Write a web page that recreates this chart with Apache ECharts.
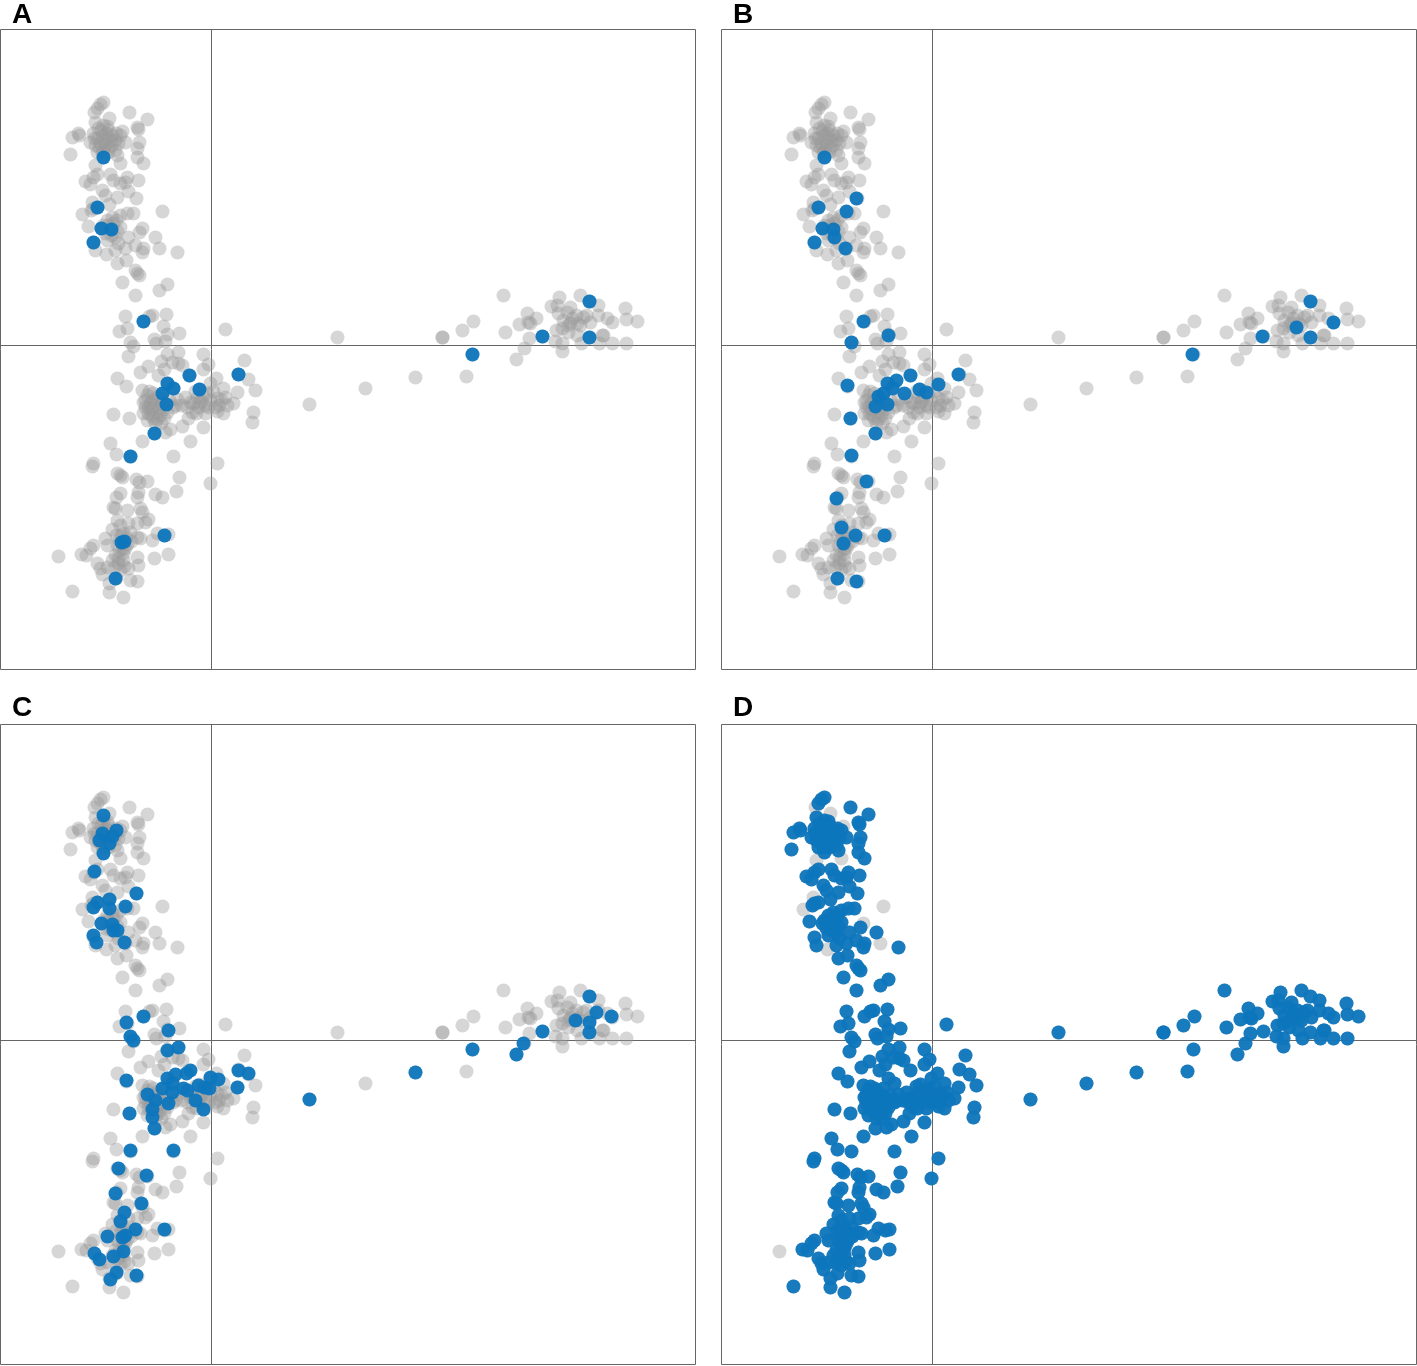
<!DOCTYPE html>
<html>
<head>
<meta charset="utf-8">
<title>Scatter panels</title>
<script src="https://cdn.jsdelivr.net/npm/echarts@6/dist/echarts.min.js"></script>
<style>
html, body { margin: 0; padding: 0; background: #fff; }
#main { width: 1417px; height: 1366px; }
</style>
</head>
<body>
<div id="main"></div>
<script>
var panelNames = [ 'A', 'B', 'C', 'D' ];

// every sample that is also highlighted in panel D
var allSamples = [
	[-108,243],[-111,241],[-114,237],[-82,233],[-64,226],[-116,223],[-74,218],[-73,216],[-133,212],[-139,208],[-132,210],[-141,191],
	[-72,203],[-74,197],[-74,188],[-68,182],[-118,212],[-113,217],[-108,220],[-103,215],[-109,210],[-114,207],[-104,207],[-99,210],
	[-96,205],[-93,202],[-99,200],[-106,200],[-111,202],[-116,200],[-96,195],[-103,193],[-109,193],[-114,193],[-91,210],[-86,203],
	[-121,203],[-94,190],[-108,188],[-110,215],[-105,212],[-100,205],[-112,198],[-107,205],[-102,198],[-117,207],[-95,212],[-108,195],
	[-104,219],[-114,171],[-118,168],[-126,164],[-121,161],[-101,171],[-98,165],[-91,162],[-86,163],[-84,168],[-73,165],[-83,154],
	[-109,155],[-106,150],[-94,148],[-75,147],[-102,141],[-120,135],[-114,138],[-118,137],[-99,128],[-91,130],[-84,132],[-78,132],
	[-104,125],[-98,122],[-108,120],[-123,119],[-110,117],[-100,116],[-91,118],[-72,113],[-56,108],[-34,93],[-118,103],[-116,95],
	[-104,105],[-96,108],[-93,102],[-83,108],[-86,97],[-76,100],[-68,97],[-69,93],[-96,95],[-94,82],[-85,85],[-76,75],
	[-74,72],[-72,70],[-89,63],[-44,61],[-52,55],[-76,50],[-103,120],[-95,125],[-100,110],[-106,112],[-94,114],
	[-86,29],[-68,24],[-62,29],[-59,30],[-45,31],[-92,14],[-84,17],[-48,19],[14,16],[-32,12],[-44,11],[-81,3],
	[-78,-1],[-57,6],[-55,2],[-46,4],[-83,-11],[-44,-9],[-33,-7],[-8,-9],[-50,-16],[-39,-17],[-33,-18],[-29,-20],
	[-3,-19],[-8,-24],[33,-15],[-63,-21],[-71,-27],[-47,-24],[-53,-30],[-22,-30],[-94,-33],[-85,-41],[37,-34],[44,-45],
	[27,-29],[5,-33],[-1,-38],[12,-43],[26,-47],[-69,-45],[-44,-38],[-38,-43],[-12,-44],[-49,-48],[-45,-59],[-64,-50],
	[-59,-55],[-68,-57],[-63,-62],[-56,-60],[-54,-67],[-63,-68],[-58,-73],[-51,-70],[-44,-67],[-38,-62],[-26,-52],[-21,-57],
	[-14,-52],[-8,-50],[-1,-55],[-6,-60],[-13,-62],[-19,-67],[-6,-68],[6,-53],[14,-52],[22,-58],[12,-68],[4,-62],
	[-23,-73],[-36,-60],[-68,-68],[-64,-75],[-98,-69],[-82,-73],[42,-67],[41,-77],[-8,-82],[-29,-81],[-41,-84],[-46,-87],
	[-57,-88],[-69,-96],[-21,-96],[-101,-98],[-62,-46],[-55,-52],[-50,-58],[-60,-64],[-52,-62],[-47,-73],[-56,-78],[-66,-62],
	[-16,-46],[-10,-56],[-4,-48],[-18,-58],[8,-60],[16,-60],[2,-46],[-24,-62],[-30,-60],[-58,-48],[-52,-54],[-48,-64],
	[-61,-58],[-54,-74],[-60,-70],[-66,-55],[-12,-57],[-3,-62],[6,-66],[-15,-68],[10,-55],[-42,-55],[-34,-54],[-50,-78],
	[-95,-109],[-81,-111],[-38,-111],[6,-118],[-118,-118],[-119,-121],[-94,-128],[-91,-130],[-89,-132],[-75,-134],[-72,-137],[-64,-136],
	[-32,-132],[-1,-138],[-35,-146],[-91,-148],[-95,-152],[-73,-147],[-74,-152],[-56,-149],[-49,-152],[-98,-162],[-96,-163],[-84,-165],
	[-71,-163],[-69,-167],[-63,-174],[-66,-177],[-94,-175],[-99,-184],[-91,-180],[-83,-178],[-74,-178],[-88,-188],[-81,-187],[-74,-192],
	[-71,-193],[-59,-195],[-54,-188],[-43,-189],[-47,-190],[-88,-197],[-106,-193],[-104,-200],[-89,-198],[-118,-200],[-121,-203],[-130,-209],
	[-125,-210],[-57,-213],[-43,-209],[-74,-212],[-73,-220],[-99,-215],[-93,-213],[-88,-208],[-114,-218],[-111,-223],[-109,-229],[-83,-223],
	[-95,-233],[-81,-235],[-74,-236],[-102,-238],[-102,-247],[-139,-246],[-88,-252],[-92,-195],[-85,-192],[-92,-205],[-88,-215],[-97,-222],
	[-91,-225],[-86,-203],[-80,-196],[-95,-190],[-104,-222],[-90,-190],[-84,-199],[-94,-200],[-88,-203],[-93,-218],[-87,-221],[-96,-210],
	[231,8],[231,8],[251,15],[262,24],[261,-9],[255,-31],[292,50],[294,13],[305,-14],[313,-3],[318,7],[308,21],
	[316,32],[317,23],[319,22],[325,27],[340,39],[348,48],[346,40],[369,50],[378,44],[387,40],[414,37],[415,26],
	[426,24],[401,23],[396,27],[387,30],[379,23],[372,28],[366,22],[361,27],[356,33],[359,38],[347,32],[345,15],
	[351,17],[357,13],[366,10],[378,8],[392,10],[391,10],[401,2],[415,2],[388,2],[370,2],[351,2],[351,-6],
	[344,4],[331,9],[359,22],[369,20],[357,20],[365,30],[352,25],[375,30],
	[126,8],[154,-43],[204,-32],[98,-59]
];
// samples that stay grey in all four panels
var greyOnlySamples = [
	[-117,233],[-102,227],[-89,214],[-91,182],[-116,180],[-119,143],[-129,131],[-49,134],[-69,117],[-52,97],[-105,91],[-153,-211]
];
var backgroundSamples = allSamples.concat(greyOnlySamples);

var highlightA = [
	[-108,188],[-114,138],[-110,117],[-100,116],[-118,103],[-68,24],[-22,-30],[27,-29],[-12,-44],[-44,-38],[-38,-43],[-49,-48],
	[-45,-59],[-57,-88],[-81,-111],[-47,-190],[-90,-197],[-87,-196],[-96,-233],[378,44],[331,9],[378,8],[261,-9]
];
var highlightB = [
	[-108,188],[-76,147],[-114,138],[-86,134],[-110,117],[-99,116],[-98,108],[-118,103],[-87,97],[-69,24],[-44,10],[-81,3],
	[-85,-40],[-82,-73],[-57,-88],[-81,-110],[-66,-136],[-96,-153],[-91,-182],[-77,-190],[-48,-190],[-89,-198],[-95,-233],[-76,-236],
	[378,44],[364,18],[401,23],[330,9],[378,8],[260,-9],[26,-29],[6,-39],[-22,-30],[-36,-35],[-45,-38],[-40,-43],
	[-49,-48],[-28,-48],[-13,-44],[-6,-47],[-54,-51],[-57,-61],[-45,-59]
];
var highlightC = [
	[-108,225],[-95,210],[-109,207],[-112,200],[-102,197],[-99,204],[-108,187],[-117,169],[-75,147],[-102,141],[-114,138],[-118,133],
	[-102,132],[-86,134],[-110,117],[-99,116],[-98,110],[-94,110],[-118,105],[-115,98],[-87,98],
	[-68,24],[-85,18],[-43,10],[-81,4],[-78,0],[-44,-10],[-33,-7],[-21,-30],[-25,-33],[27,-30],[37,-33],[26,-47],
	[-85,-40],[-44,-38],[-36,-34],[-39,-43],[-49,-48],[-64,-54],[-56,-60],[-39,-52],[-43,-63],[-28,-48],[-24,-50],[-13,-45],
	[-7,-47],[-2,-48],[-1,-37],[7,-39],[-16,-60],[-8,-69],[-59,-69],[-59,-77],[-57,-88],[-82,-73],[-81,-110],[-38,-110],
	[-93,-128],[-65,-135],[-96,-153],[-70,-163],[-87,-172],[-91,-181],[-47,-189],[-76,-189],[-104,-196],[-89,-197],[-86,-195],[-88,-211],
	[-98,-216],[-117,-213],[-112,-219],[-75,-235],[-95,-232],[-101,-239],
	[378,44],[385,28],[400,24],[378,18],[364,20],[331,9],[378,8],[261,-9],[312,-3],[305,-14],[204,-32],[98,-59]
];
var highlightD = allSamples;
var highlights = [ highlightA, highlightB, highlightC, highlightD ];

var xRange = [ -211, 484 ];
var yRange = [ -324, 316 ];

var lefts = [ 0, 721, 0, 721 ];
var tops = [ 29, 29, 724, 724 ];
var labelTops = [ -4, -4, 689, 689 ];

var option = {
	animation : false,
	backgroundColor : '#fff',
	title : [],
	grid : [],
	xAxis : [],
	yAxis : [],
	series : []
};

for (var i = 0; i < 4; i++) {
	option.title.push({
		text : panelNames[i],
		left : lefts[i] + 7,
		top : labelTops[i],
		textStyle : {
			fontFamily : 'Liberation Sans',
			fontSize : 28,
			fontWeight : 'bold',
			color : '#000'
		}
	});
	option.grid.push({
		show : true,
		left : lefts[i] + 0.5,
		top : tops[i] + 0.5,
		width : 695,
		height : 640,
		backgroundColor : '#fff',
		borderColor : '#666',
		borderWidth : 1
	});
	option.xAxis.push({
		type : 'value',
		gridIndex : i,
		min : xRange[0],
		max : xRange[1],
		axisLine : {
			show : true,
			onZero : true,
			lineStyle : { color : '#666', width : 1 }
		},
		axisTick : { show : false },
		axisLabel : { show : false },
		splitLine : { show : false }
	});
	option.yAxis.push({
		type : 'value',
		gridIndex : i,
		min : yRange[0],
		max : yRange[1],
		axisLine : {
			show : true,
			onZero : true,
			lineStyle : { color : '#666', width : 1 }
		},
		axisTick : { show : false },
		axisLabel : { show : false },
		splitLine : { show : false }
	});
	option.series.push({
		type : 'scatter',
		xAxisIndex : i,
		yAxisIndex : i,
		data : backgroundSamples,
		symbolSize : 14,
		silent : true,
		z : 2,
		itemStyle : { color : '#999', opacity : 0.4 }
	});
	option.series.push({
		type : 'scatter',
		xAxisIndex : i,
		yAxisIndex : i,
		data : highlights[i],
		symbolSize : 14,
		silent : true,
		z : 3,
		itemStyle : { color : '#0d76bd', opacity : 0.95 }
	});
}

echarts.init(document.getElementById('main')).setOption(option);
</script>
</body>
</html>
